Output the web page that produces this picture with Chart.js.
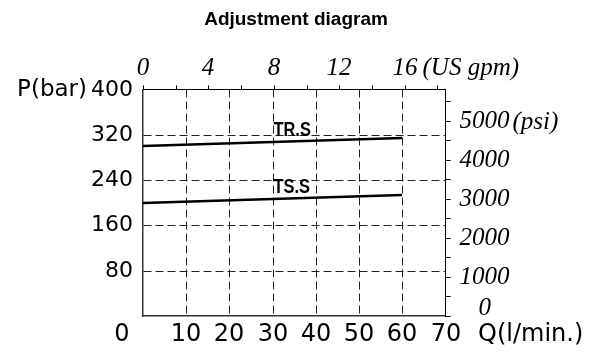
<!DOCTYPE html>
<html>
<head>
<meta charset="utf-8">
<script src="https://cdn.jsdelivr.net/npm/chart.js@4"></script>
<style>
  html, body { margin: 0; padding: 0; background: #fff; }
</style>
</head>
<body>
<canvas id="adjChart" width="592" height="356"></canvas>
<script>
// Adjustment diagram : pression de reglage selon le debit

const flow = [0, 60];            // Q (l/min.)
const trsPressure = [300, 315];  // TR.S (bar)
const tssPressure = [200, 214];  // TS.S (bar)
const seriesNames = ["TR.S", "TS.S"];

const gpmTicks = [0, 2, 4, 6, 8, 10, 12, 14, 16, 18];
const gpmLabels = [0, 4, 8, 12, 16];
const psiTicks = [0, 500, 1000, 1500, 2000, 2500, 3000, 3500, 4000, 4500, 5000, 5500];
const psiLabels = [1000, 2000, 3000, 4000, 5000];

const LPM_PER_GPM = 3.785;
const PSI_PER_BAR = 14.5038;
const Q_MAX = 70;
const P_MAX = 400;

const sans = "'DejaVu Sans', sans-serif";
const serif = "'Liberation Serif', serif";
const SERIF_SIZE = 25;

function fixWidth(w) {
  return (scale) => { scale.width = w; };
}
function fixHeight(h) {
  return (scale) => { scale.height = h; };
}
function setTicks(values) {
  return (scale) => { scale.ticks = values.map((v) => ({ value: v })); };
}
function gridColor(edges) {
  return (c) => (c.tick && edges.includes(c.tick.value) ? "rgba(0,0,0,0)" : "#222");
}

const extraText = {
  id: "extraText",
  afterDraw(chart) {
    const { ctx } = chart;
    const { x, x2, y, y2 } = chart.scales;
    ctx.save();
    ctx.fillStyle = "#000";

    // P(bar) a gauche du 400
    ctx.font = "23px " + sans;
    ctx.textAlign = "right";
    ctx.textBaseline = "middle";
    ctx.fillText("P(bar)", y.right - 56, y.getPixelForValue(P_MAX));

    // 0 de l'origine et Q(l/min.)
    const yBottom = x.top + 4 + 24 * 0.6;
    ctx.font = "24px " + sans;
    ctx.textAlign = "center";
    ctx.fillText("0", x.left - 21, yBottom);
    ctx.textAlign = "left";
    ctx.fillText("Q(l/min.)", x.getPixelForValue(Q_MAX) + 32, yBottom);

    // unites en italique
    ctx.font = "italic " + SERIF_SIZE + "px " + serif;
    const yTop = x2.bottom - 4 - 2 - SERIF_SIZE * 0.6;
    const w16 = ctx.measureText("16").width;
    ctx.fillText("(US gpm)", x2.getPixelForValue(16) + w16 / 2 + 5, yTop);
    const xr = y2.left + 5 + 9;
    const w5000 = ctx.measureText("5000").width;
    ctx.fillText("(psi)", xr + w5000 + 3, y2.getPixelForValue(5000) + 1);
    ctx.fillText("0", xr + w5000 / 2 - 6, y2.getPixelForValue(0) - 8);

    // noms des courbes
    ctx.font = "bold 20px 'Liberation Sans', sans-serif";
    ctx.textBaseline = "alphabetic";
    chart.data.datasets.forEach((ds, i) => {
      const pts = chart.getDatasetMeta(i).data;
      const mx = (pts[0].x + pts[1].x) / 2;
      const my = (pts[0].y + pts[1].y) / 2;
      ctx.save();
      ctx.translate(mx + 1, my - 6);
      ctx.scale(0.82, 1);
      ctx.fillText(ds.label, 0, 0);
      ctx.restore();
    });
    ctx.restore();
  },
};

const ctx = document.getElementById("adjChart").getContext("2d");
const adjChart = new Chart(ctx, {
  type: "line",
  data: {
    datasets: [
      {
        label: seriesNames[0],
        data: flow.map((q, i) => ({ x: q, y: trsPressure[i] })),
        borderColor: "#000",
        borderWidth: 2.5,
        pointRadius: 0,
        tension: 0,
      },
      {
        label: seriesNames[1],
        data: flow.map((q, i) => ({ x: q, y: tssPressure[i] })),
        borderColor: "#000",
        borderWidth: 2.5,
        pointRadius: 0,
        tension: 0,
      },
    ],
  },
  options: {
    responsive: false,
    animation: false,
    devicePixelRatio: 1,
    layout: { padding: 0 },
    plugins: {
      legend: { display: false },
      tooltip: { enabled: false },
      title: {
        display: true,
        text: "Adjustment diagram",
        color: "#000",
        font: { family: "'Liberation Sans', sans-serif", weight: "bold", size: 19 },
        padding: { top: 8, bottom: 0 },
      },
    },
    scales: {
      x: {
        type: "linear",
        position: "bottom",
        min: 0,
        max: Q_MAX,
        alignToPixels: true,
        afterFit: fixHeight(40),
        ticks: {
          stepSize: 10,
          padding: 4,
          autoSkip: false,
          maxRotation: 0,
          color: "#000",
          font: { family: sans, size: 24 },
          callback: (v) => (v === 0 ? "" : v),
        },
        grid: {
          drawTicks: false,
          color: gridColor([0, Q_MAX]),
        },
        border: { color: "#333", width: 1.5, dash: [8, 4] },
      },
      x2: {
        type: "linear",
        position: "top",
        min: 0,
        max: Q_MAX / LPM_PER_GPM,
        alignToPixels: true,
        afterFit: fixHeight(58.7),
        afterBuildTicks: setTicks(gpmTicks),
        ticks: {
          padding: 2,
          autoSkip: false,
          maxRotation: 0,
          color: "#000",
          font: { family: serif, style: "italic", size: SERIF_SIZE },
          callback: (v) => (gpmLabels.includes(v) ? String(v) : ""),
        },
        grid: { drawOnChartArea: false, tickLength: 4, color: "#000" },
        border: { color: "#000", width: 1 },
      },
      y: {
        type: "linear",
        position: "left",
        min: 0,
        max: P_MAX,
        alignToPixels: true,
        afterFit: fixWidth(143),
        ticks: {
          stepSize: 80,
          padding: 10,
          color: "#000",
          font: { family: sans, size: 22 },
          callback: (v) => (v === 0 ? "" : v),
        },
        grid: {
          drawTicks: false,
          color: gridColor([0, P_MAX]),
        },
        border: { color: "#333", width: 1.5, dash: [8, 4] },
      },
      y2: {
        type: "linear",
        position: "right",
        min: 0,
        max: P_MAX * PSI_PER_BAR,
        alignToPixels: true,
        afterFit: fixWidth(146.5),
        afterBuildTicks: setTicks(psiTicks),
        ticks: {
          padding: 9,
          autoSkip: false,
          color: "#000",
          font: { family: serif, style: "italic", size: SERIF_SIZE },
          callback: (v) => (psiLabels.includes(v) ? String(v) : ""),
        },
        grid: { drawOnChartArea: false, tickLength: 5, color: "#000" },
        border: { color: "#000", width: 1 },
      },
    },
  },
  plugins: [extraText],
});
</script>
</body>
</html>
